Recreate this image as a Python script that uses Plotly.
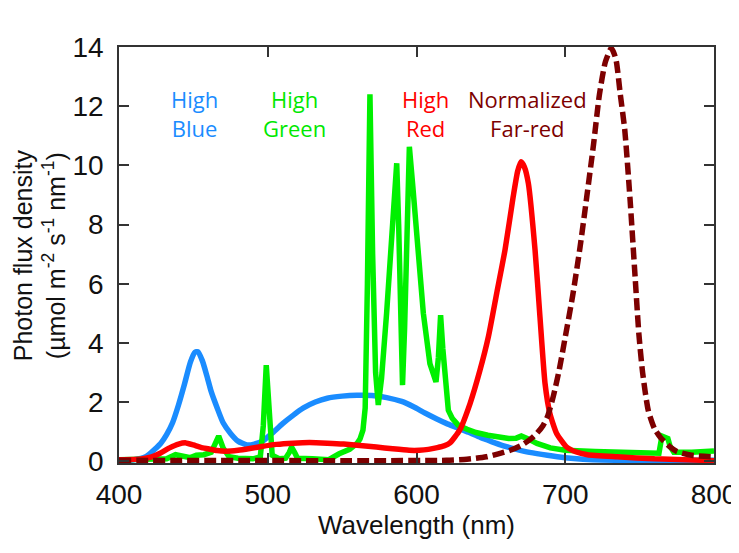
import plotly.graph_objects as go

# ---------------- data ----------------
blue_wl = [400, 410, 418, 425, 428, 432, 436, 440, 444, 448, 451, 453, 456, 459, 462, 466, 470, 475,
           480, 486, 491, 497, 503, 510, 517, 524, 532, 540, 550, 560, 570, 580, 590, 598, 606, 614,
           620, 627, 635, 643, 650, 658, 666, 676, 688, 700, 712, 725, 750, 800]
blue_val = [0.03, 0.05, 0.15, 0.45, 0.6, 0.9, 1.3, 1.9, 2.6, 3.35, 3.68, 3.7, 3.4, 2.9, 2.35, 1.8, 1.3, 0.94,
            0.68, 0.55, 0.58, 0.7, 0.95, 1.27, 1.55, 1.8, 2.0, 2.13, 2.2, 2.23, 2.22, 2.15, 2.02, 1.84, 1.62, 1.42,
            1.28, 1.14, 0.98, 0.8, 0.67, 0.53, 0.42, 0.3, 0.2, 0.12, 0.07, 0.04, 0.03, 0.03]

green_wl = [400, 420, 432, 438, 443, 448, 452, 457, 462, 465, 467, 470, 474, 480, 490, 495, 497, 499, 501,
            503, 508, 512, 514.5, 516, 518, 520, 530, 541, 548, 555, 560, 562, 564, 565.5, 567, 568.7,
            570.5, 572.5, 574.3, 576.5, 579.9, 583.3, 586.7, 588, 589.5, 590.6, 592, 593.5, 595.2,
            597.5, 600.1, 604.6, 609, 613.1, 614.7, 616.2, 617.7, 619.2, 621.4, 624, 628, 634, 640, 648,
            656, 662, 667, 670.5, 674, 681, 690, 700, 720, 740, 763, 765, 767, 769, 770.5, 773, 785, 800]
green_val = [0.05, 0.05, 0.08, 0.22, 0.18, 0.12, 0.2, 0.22, 0.3, 0.65, 0.85, 0.45, 0.15, 0.1, 0.08, 0.15, 1.2, 3.25, 1.5,
             0.2, 0.08, 0.1, 0.3, 0.48, 0.3, 0.1, 0.08, 0.05, 0.25, 0.4, 0.6, 0.75, 1.05, 1.8, 6.0, 12.4,
             7.0, 3.0, 1.9, 2.8, 5.0, 7.25, 10.07, 8.0, 4.5, 2.57, 4.5, 8.5, 10.63,
             9.3, 7.8, 5.0, 3.3, 2.68, 3.5, 4.94, 3.8, 2.74, 1.72, 1.45, 1.22, 1.08, 0.97, 0.88,
             0.8, 0.77, 0.78, 0.85, 0.78, 0.6, 0.45, 0.37, 0.33, 0.3, 0.27, 0.85, 0.8, 0.77, 0.5, 0.3, 0.3, 0.35]

red_wl = [400, 415, 422, 428, 434, 440, 445, 450, 455, 460, 466, 472, 480, 488, 496, 506, 517, 528, 540,
          551, 562, 573, 584, 595, 602, 608, 614, 618.5, 622.5, 629, 636, 642.7, 648.3, 653.9, 659.5,
          665, 668, 670.3, 672.5, 675.2, 679.7, 683, 686.4, 689.7, 694.2, 700.9, 707, 715, 735, 760, 800]
red_val = [0.05, 0.08, 0.15, 0.28, 0.45, 0.58, 0.62, 0.55, 0.47, 0.42, 0.36, 0.34, 0.37, 0.43, 0.5, 0.57, 0.61, 0.63, 0.61,
           0.58, 0.53, 0.48, 0.42, 0.37, 0.37, 0.4, 0.46, 0.52, 0.62, 1.05, 1.95, 3.08, 4.2, 5.67, 7.14,
           8.94, 9.8, 10.12, 9.95, 9.39, 7.14, 4.88, 2.63, 1.61, 0.94, 0.48, 0.32, 0.22, 0.15, 0.08, 0.02]

farred_wl = [400, 620, 632, 640, 647, 655, 663, 670, 676, 681, 685, 688, 692, 696, 700, 705, 710, 714.5,
             719, 723, 727, 731, 734, 737, 740, 743.5, 747, 749.5, 752, 755.8, 760, 764, 770, 775, 785, 800]
farred_val = [0.03, 0.03, 0.06, 0.1, 0.15, 0.25, 0.37, 0.52, 0.72, 0.95, 1.2, 1.5, 2.2, 3.1, 4.2, 5.6, 7.25, 8.95,
              10.7, 12.4, 13.5, 13.96, 13.6, 12.4, 11.2, 8.9, 6.2, 4.3, 3.0, 1.72, 1.1, 0.8, 0.5, 0.33, 0.2, 0.15]

x_ticks = [400, 500, 600, 700, 800]
y_ticks = [0, 2, 4, 6, 8, 10, 12, 14]

C_BLUE = "#1a8cff"
C_GREEN = "#00f000"
C_RED = "#ff0000"
C_MAROON = "#7d0000"

fig = go.Figure()
fig.add_trace(go.Scatter(x=blue_wl, y=blue_val, mode="lines", name="High Blue",
                         line=dict(color=C_BLUE, width=5.5, shape="spline", smoothing=0.6)))
fig.add_trace(go.Scatter(x=green_wl, y=green_val, mode="lines", name="High Green",
                         line=dict(color=C_GREEN, width=5.5)))
fig.add_trace(go.Scatter(x=red_wl, y=red_val, mode="lines", name="High Red",
                         line=dict(color=C_RED, width=5.5, shape="spline", smoothing=0.5)))
fig.add_trace(go.Scatter(x=farred_wl, y=farred_val, mode="lines", name="Normalized Far-red",
                         line=dict(color=C_MAROON, width=5.5, dash="12px,5px", shape="spline", smoothing=0.6)))

ann_font = "Open Sans, Noto Sans, sans-serif"
labels = [("High<br>Blue", 451, C_BLUE), ("High<br>Green", 518, "#00e800"),
          ("High<br>Red", 606, C_RED), ("Normalized<br>Far-red", 674.5, C_MAROON)]
for txt, xv, col in labels:
    fig.add_annotation(x=xv, y=11.75, xref="x", yref="y", text=txt, showarrow=False,
                       font=dict(family=ann_font, size=22, color=col), align="center",
                       xanchor="center", yanchor="middle")

axis_font = "Liberation Sans, Arial, sans-serif"
fig.add_annotation(x=-0.134, y=0.5, xref="paper", yref="paper", textangle=-90,
                   text="Photon flux density<br>(µmol m<sup>-2</sup> s<sup>-1</sup> nm<sup>-1</sup>)",
                   showarrow=False, font=dict(family=axis_font, size=25, color="#111"),
                   xanchor="center", yanchor="middle", align="center")
fig.add_annotation(x=0.5, y=-0.15, xref="paper", yref="paper", text="Wavelength (nm)",
                   showarrow=False, font=dict(family=axis_font, size=26, color="#111"),
                   xanchor="center", yanchor="middle")

fig.update_xaxes(range=[400, 800], tickvals=x_ticks, ticks="inside", ticklen=10, tickwidth=1.5,
                 tickcolor="#333", showline=True, linecolor="#333", linewidth=1.5, mirror="ticks",
                 showgrid=False, zeroline=False, ticklabelstandoff=6,
                 tickfont=dict(family=axis_font, size=28, color="#111"))
fig.update_yaxes(range=[-0.06, 14], tickvals=y_ticks, ticks="inside", ticklen=10, tickwidth=1.5,
                 tickcolor="#333", showline=True, linecolor="#333", linewidth=1.5, mirror="ticks",
                 showgrid=False, zeroline=False, ticklabelstandoff=8,
                 tickfont=dict(family=axis_font, size=28, color="#111"))

# page body has an 8px default margin, so the figure is offset by (8, 8)
fig.update_layout(width=731, height=545, margin=dict(l=111, r=25, t=39, b=90, autoexpand=False),
                  plot_bgcolor="white", paper_bgcolor="white", showlegend=False)

fig.write_html("out.html")
